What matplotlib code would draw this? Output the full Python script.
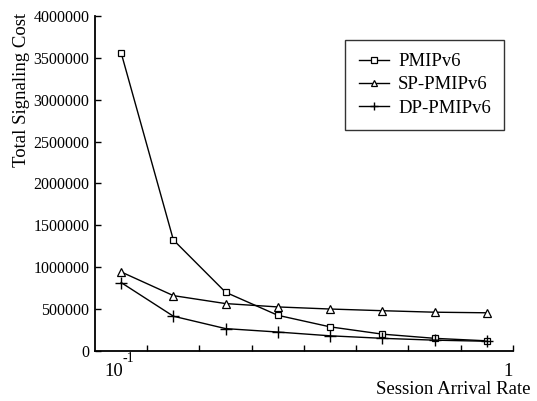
import matplotlib
matplotlib.use("Agg")
import matplotlib.pyplot as plt

plt.rcParams['font.family'] = ['Liberation Serif', 'DejaVu Serif']

# session arrival rate positions (axis drawn linear, labelled 10^-1 .. 1)
rate = [0.1, 0.2, 0.3, 0.4, 0.5, 0.6, 0.7, 0.8]
pmipv6 = [3560000, 1325000, 700000, 425000, 287000, 200000, 150000, 120000]
sp_pmipv6 = [943000, 660000, 565000, 525000, 500000, 480000, 462000, 455000]
dp_pmipv6 = [816000, 414000, 266000, 225000, 180000, 150000, 128000, 115000]
y_ticks = [0, 500000, 1000000, 1500000, 2000000, 2500000, 3000000, 3500000, 4000000]

fig = plt.figure(figsize=(5.37, 4.01), dpi=100)
ax = fig.add_axes([0.177, 0.125, 0.778, 0.835])

ax.plot(rate, pmipv6, color='black', lw=1.0, marker='s', ms=5, mfc='white', mec='black', mew=0.9, label='PMIPv6')
ax.plot(rate, sp_pmipv6, color='black', lw=1.0, marker='^', ms=6, mfc='white', mec='black', mew=0.9, label='SP-PMIPv6')
ax.plot(rate, dp_pmipv6, color='black', lw=1.0, marker='+', ms=8, mec='black', mew=1.0, label='DP-PMIPv6')

ax.set_xlim(0.05, 0.85)
ax.set_ylim(0, 4000000)
ax.set_xticks([0.15, 0.25, 0.35, 0.45, 0.55, 0.65, 0.75, 0.85])
ax.set_xticklabels([])
ax.set_yticks(y_ticks)
ax.set_yticklabels([str(v) for v in y_ticks], fontsize=11.5)
ax.tick_params(direction='in', length=4, width=1.0, pad=4)

for s in ['top', 'right']:
    ax.spines[s].set_visible(False)
for s in ['left', 'bottom']:
    ax.spines[s].set_linewidth(1.3)

fig.text(22 / 537, 1 - 90 / 401, 'Total Signaling Cost', rotation=90, ha='center', va='center', fontsize=13.5)

fig.text(114 / 537, 1 - 372 / 401, '10', ha='center', va='center', fontsize=13.5)
fig.text(128.5 / 537, 1 - 358 / 401, '-1', ha='center', va='center', fontsize=10)
fig.text(508 / 537, 1 - 372 / 401, '1', ha='center', va='center', fontsize=13.5)
fig.text(531 / 537, 1 - 390 / 401, 'Session Arrival Rate', ha='right', va='center', fontsize=13.5)

leg = ax.legend(loc='upper right', bbox_to_anchor=(1 - 9 / 418, 1 - 24 / 335), fontsize=13.5, frameon=True,
                fancybox=False, edgecolor='black', handlelength=1.6, borderpad=0.7,
                labelspacing=0.32, handletextpad=0.5, markerscale=0.8, borderaxespad=0)
leg.get_frame().set_linewidth(1.0)

fig.savefig('out.png', dpi=100)
